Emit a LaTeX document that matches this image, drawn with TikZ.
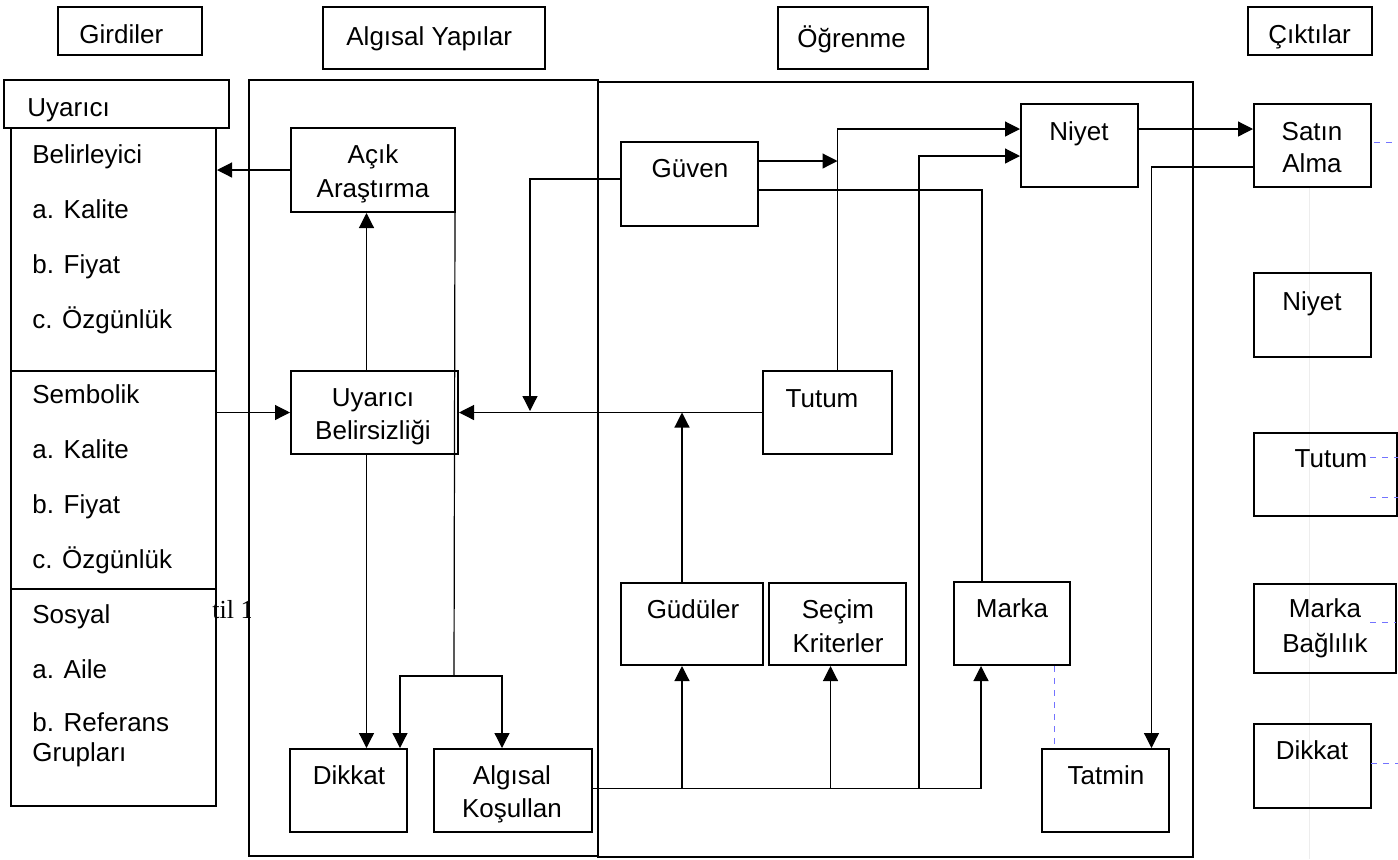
\documentclass[tikz,border=0pt]{standalone}
\usepackage{fontspec}
\setmainfont{Liberation Sans}
\newfontfamily\serifx{Liberation Serif}
\usetikzlibrary{arrows.meta,calc,fit}
\begin{document}
\begin{tikzpicture}[x=0.5pt,y=-0.5pt,
  box/.style={draw, line width=1pt, inner sep=0pt},
  bigbox/.style={draw, line width=1.2pt, inner sep=0pt},
  txt/.style={inner sep=0pt, font=\fontsize{13}{15}\selectfont},
  ln/.style={line width=0.6pt},
  arr/.style={line width=0.6pt, -{Triangle[length=7.5pt,width=7.5pt]}},
  bluedash/.style={draw=blue!55!white, line width=0.5pt, dash pattern=on 3pt off 3pt},
  faint/.style={draw=black!7, line width=0.5pt}]
\useasboundingbox (0,0) rectangle (1398,859);
% faint traces
\draw[faint] (1309,187) -- (1309,859);
% artefact text
\begin{scope}
\clip (200,560) rectangle (250,660);
\node[txt, anchor=base west, font=\serifx\fontsize{13}{15}\selectfont] (til) at (212,618) {til 1};
\end{scope}
% headers
\node[box, fit={(58,7)(202,55)}] (gird) {};
\node[box, fit={(323,7)(545,69)}] (algh) {};
\node[box, fit={(778,7)(928,69)}] (ogr) {};
\node[box, fit={(1248,7)(1372,55)}] (cik) {};
\node[txt, anchor=base west] (tgird) at (79,43) {Girdiler};
\node[txt, anchor=base west] (talgh) at (346,45) {Algısal Yapılar};
\node[txt, anchor=base west] (togr) at (797,47) {Öğrenme};
\node[txt, anchor=base west] (tcik) at (1268,43) {Çıktılar};
% big frames
\node[bigbox, fit={(249,80)(598,856)}] (algframe) {};
\node[bigbox, fit={(598,82)(1193,857)}] (ogrframe) {};
% left column
\node[box, fit={(11,128)(216,371)}] (belir) {};
\node[box, fit={(11,371)(216,589)}] (semb) {};
\node[box, fit={(11,589)(216,806)}] (sosy) {};
\node[box, fill=white, fit={(4,80)(229,128)}] (uyar) {};
\node[txt, anchor=base west] (tuyar) at (27,116) {Uyarıcı};
\node[txt, anchor=base west] (l1) at (32,163) {Belirleyici};
\node[txt, anchor=base west] (l2) at (32,218) {a. Kalite};
\node[txt, anchor=base west] (l3) at (32,273) {b. Fiyat};
\node[txt, anchor=base west] (l4) at (32,328) {c. Özgünlük};
\node[txt, anchor=base west] (l5) at (32,403) {Sembolik};
\node[txt, anchor=base west] (l6) at (32,458) {a. Kalite};
\node[txt, anchor=base west] (l7) at (32,513) {b. Fiyat};
\node[txt, anchor=base west] (l8) at (32,568) {c. Özgünlük};
\node[txt, anchor=base west] (l9) at (32,623) {Sosyal};
\node[txt, anchor=base west] (l10) at (32,678) {a. Aile};
\node[txt, anchor=base west] (l11) at (32,731) {b. Referans};
\node[txt, anchor=base west] (l12) at (32,761) {Grupları};
% perceptual boxes
\node[box, fit={(291,128)(455,212)}] (acik) {};
\node[box, fit={(291,371)(458,454)}] (ub) {};
\node[box, fit={(290,749)(407,832)}] (dik) {};
\node[box, fit={(434,749)(592,832)}] (kos) {};
\node[txt, anchor=base] (t1) at (373,163) {Açık};
\node[txt, anchor=base] (t2) at (373,197) {Araştırma};
\node[txt, anchor=base] (t3) at (373,406) {Uyarıcı};
\node[txt, anchor=base] (t4) at (373,439) {Belirsizliği};
\node[txt, anchor=base] (t5) at (349,784) {Dikkat};
\node[txt, anchor=base] (t6) at (512,784) {Algısal};
\node[txt, anchor=base] (t7) at (512,817) {Koşullan};
% learning boxes
\node[box, fit={(621,142)(758,226)}] (guv) {};
\node[box, fit={(763,371)(892,454)}] (tut) {};
\node[box, fit={(1021,104)(1138,187)}] (niy) {};
\node[box, fit={(621,583)(763,665)}] (gud) {};
\node[box, fit={(769,583)(906,665)}] (sec) {};
\node[box, fit={(954,582)(1070,665)}] (mar) {};
\node[box, fit={(1042,749)(1169,832)}] (tat) {};
\node[txt, anchor=base] (t8) at (690,177) {Güven};
\node[txt, anchor=base] (t9) at (822,407) {Tutum};
\node[txt, anchor=base] (t10) at (1079,140) {Niyet};
\node[txt, anchor=base] (t11) at (693,618) {Güdüler};
\node[txt, anchor=base] (t12) at (838,618) {Seçim};
\node[txt, anchor=base] (t13) at (838,652) {Kriterler};
\node[txt, anchor=base] (t14) at (1012,617) {Marka};
\node[txt, anchor=base] (t15) at (1106,784) {Tatmin};
% outputs
\node[box, fit={(1254,104)(1371,187)}] (sat) {};
\node[box, fit={(1254,273)(1371,357)}] (niy2) {};
\node[box, fit={(1254,433)(1397,516)}] (tut2) {};
\node[box, fit={(1254,584)(1396,673)}] (mb) {};
\node[box, fit={(1254,724)(1371,808)}] (dik2) {};
\node[txt, anchor=base] (t16) at (1312,140) {Satın};
\node[txt, anchor=base] (t17) at (1312,172) {Alma};
\node[txt, anchor=base] (t18) at (1312,310) {Niyet};
\node[txt, anchor=base] (t19) at (1331,467) {Tutum};
\node[txt, anchor=base] (t20) at (1325,617) {Marka};
\node[txt, anchor=base] (t21) at (1325,652) {Bağlılık};
\node[txt, anchor=base] (t22) at (1312,759) {Dikkat};
% helper coordinates
\coordinate (ubx) at ($(ub.south)+(-8,0)$);
\coordinate (ubn) at ($(ub.north)+(-8,0)$);
\coordinate (split) at (454,676);
\coordinate (acr) at ($(acik.south east)+(-1,0)$);
\coordinate (dka) at ($(dik.north east)+(-8,0)$);
\coordinate (ksa) at ($(kos.north)+(-11,0)$);
\coordinate (gw) at ($(guv.west)+(0,-5)$);
\coordinate (gj) at (530,411);
\coordinate (tx) at ($(tut.north)+(10,0)$);
\coordinate (gn) at ($(gud.north)+(-10,0)$);
\coordinate (gx) at ($(gud.south)+(-10,0)$);
\coordinate (sx) at ($(sec.south)+(-7,0)$);
\coordinate (mx) at ($(mar.south)+(-31,0)$);
\coordinate (mt) at ($(mar.north)+(-30,0)$);
\coordinate (bl) at ($(kos.east)+(0,-2)$);
\coordinate (j3) at (919,788);
\coordinate (g1) at ($(guv.east)+(0,-23)$);
\coordinate (g2) at ($(guv.east)+(0,6)$);
\coordinate (n1) at ($(niy.west)+(0,-16.5)$);
\coordinate (n2) at ($(niy.west)+(0,10.5)$);
\coordinate (n3) at ($(niy.east)+(0,-16.5)$);
\coordinate (s1) at ($(sat.west)+(0,21.5)$);
\coordinate (ta) at ($(tat.north)+(46,0)$);
\coordinate (md) at ($(mar.south)+(42,0)$);
\coordinate (s2) at ($(sat.east)+(2,-3.5)$);
\coordinate (e1) at (1398,142);
\coordinate (e2) at (1398,457);
\coordinate (e3) at (1398,497);
\coordinate (e4) at (1396,622);
\coordinate (e5) at (1398,763);
% connectors
\draw[arr] (acik.west) -- (acik.west -| belir.east);
\draw[arr] (semb.east |- ub.west) -- (ub.west);
\draw[arr] (ubn) -- (ubn |- acik.south);
\draw[arr] (ubx) -- (ubx |- dik.north);
\draw[ln] (acr) -- (split);
\draw[arr] (split) -| (dka);
\draw[arr] (split) -| (ksa);
\draw[arr] (tut.west) -- (ub.east);
\draw[arr] (gw) -| (gj);
\draw[arr] (gn) -- (gn |- tut.west);
\draw[arr] (tx) |- (n1);
\draw[arr] (g1) -- (g1 -| tx);
\draw[ln] (g2) -| (mt);
\draw[arr] (bl) -| (mx);
\draw[arr] (gx |- bl) -- (gx);
\draw[arr] (sx |- bl) -- (sx);
\draw[arr] (j3) |- (n2);
\draw[arr] (n3) -- (n3 -| sat.west);
\draw[arr] (s1) -| (ta);
% blue dashed traces
\draw[bluedash] (md) -- (md |- tat.north);
\draw[bluedash] (s2) -- (e1);
\draw[bluedash] (1370,457) -- (e2);
\draw[bluedash] (1370,497) -- (e3);
\draw[bluedash] (1370,622) -- (e4);
\draw[bluedash] (1371,763) -- (e5);
\end{tikzpicture}
\end{document}
